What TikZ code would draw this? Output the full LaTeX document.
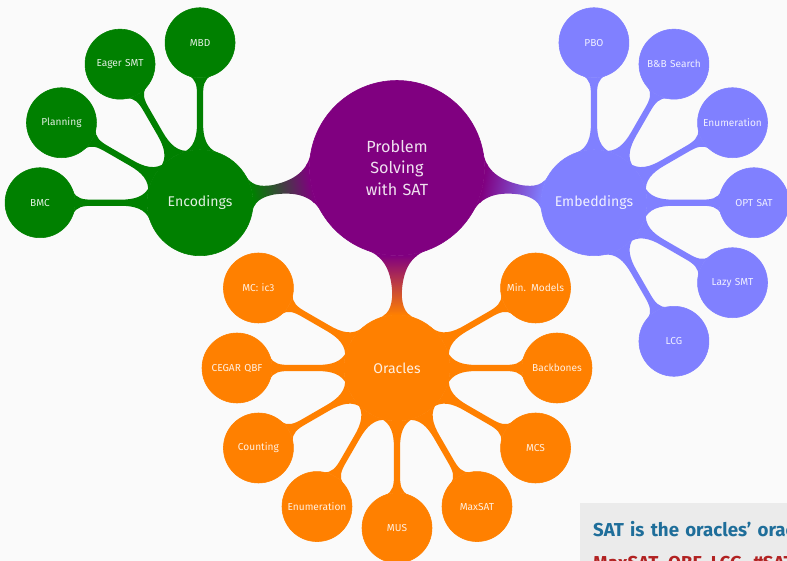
\documentclass[tikz,border=0pt]{standalone}
\usepackage{fontspec}
\setmainfont{Fira Sans}
\usetikzlibrary{mindmap,calc}

\definecolor{slidebg}{HTML}{FAFAFA}
\definecolor{rootcol}{HTML}{800080}
\definecolor{enccol}{HTML}{008000}
\definecolor{embcol}{HTML}{8080FF}
\definecolor{oraclecol}{HTML}{FF8000}
\definecolor{boxgray}{HTML}{EBEBEB}
\definecolor{alertblue}{HTML}{1F6E9A}
\definecolor{alertred}{HTML}{B22222}

\pgfdeclarelayer{canvas}
\pgfdeclarelayer{links}
\pgfsetlayers{canvas,links,main}

\begin{document}
\begin{tikzpicture}[mindmap,
    rootnode/.style={concept, concept color=rootcol, minimum size=4.375cm, text width=3cm,
      align=center, inner sep=0pt, font=\fontsize{11.5}{15.3}\selectfont},
    hubnode/.style={concept, minimum size=2.65cm, text width=2.2cm,
      align=center, inner sep=0pt, font=\fontsize{10}{12}\selectfont},
    leafnode/.style={concept, minimum size=1.75cm, text width=1.6cm,
      align=center, inner sep=0pt, font=\fontsize{7.2}{8.6}\selectfont},
    every node/.append style={text=white, text opacity=0.88},
    linkbar/.style={line width=0.2cm}]
            \useasboundingbox (0,0) rectangle (19.675,14.025);
            \begin{pgfonlayer}{canvas}
                \fill[slidebg] (0,0) rectangle (19.675,14.025);
            \end{pgfonlayer}

            % Root and main branches
            \node[rootnode] (sat) at (9.925,9.825) {Problem\\Solving\\with SAT};
            \node[hubnode, concept color=enccol] (enc) at ($(sat)+(190:5)$) {Encodings};
            \node[hubnode, concept color=embcol] (emb) at ($(sat)+(-10:5)$) {Embeddings};
            \node[hubnode, concept color=oraclecol] (orc) at ($(sat)+(270:5)$) {Oracles};
            \begin{pgfonlayer}{links}
                \path[linkbar] (sat) to[circle connection bar switch color=from (rootcol) to (enccol)] (enc);
                \path[linkbar] (sat) to[circle connection bar switch color=from (rootcol) to (embcol)] (emb);
                \path[linkbar] (sat) to[circle connection bar switch color=from (rootcol) to (oraclecol)] (orc);
            \end{pgfonlayer}

            % Encodings
            \foreach \ang/\nm/\txt in {180/bmc/BMC, 150/plan/Planning, 120/eager/Eager SMT, 90/mbd/MBD}
            {
                \node[leafnode, concept color=enccol] (\nm) at ($(enc)+(\ang:4)$) {\txt};
                \begin{pgfonlayer}{links}
                    \path[linkbar, concept color=enccol] (enc) to[circle connection bar] (\nm);
                \end{pgfonlayer}
            }

            % Embeddings
            \foreach \ang/\nm/\txt in {90/pbo/PBO, 60/bnb/B\&B Search, 30/enumb/Enumeration,
                0/optsat/OPT SAT, -30/lazy/Lazy SMT, -60/lcg/LCG}
            {
                \node[leafnode, concept color=embcol] (\nm) at ($(emb)+(\ang:4)$) {\txt};
                \begin{pgfonlayer}{links}
                    \path[linkbar, concept color=embcol] (emb) to[circle connection bar] (\nm);
                \end{pgfonlayer}
            }

            % Oracles
            \foreach \ang/\nm/\txt in {150/ictre/MC: ic3, 180/cegar/CEGAR QBF, 210/count/Counting,
                240/enumo/Enumeration, 270/mus/MUS, 300/maxsat/MaxSAT, 330/mcs/MCS,
                0/backb/Backbones, 30/minmod/Min. Models}
            {
                \node[leafnode, concept color=oraclecol] (\nm) at ($(orc)+(\ang:4)$) {\txt};
                \begin{pgfonlayer}{links}
                    \path[linkbar, concept color=oraclecol] (orc) to[circle connection bar] (\nm);
                \end{pgfonlayer}
            }

            % Takeaway box
            \begin{scope}[every node/.style={anchor=base west, inner sep=0pt,
                font=\fontsize{13.3}{16}\selectfont\bfseries}]
                \clip (0,0) rectangle (19.675,14.025);
                \fill[boxgray] (14.5,1.45) rectangle (19.675,0);
                \node[text=alertblue] (gist) at (14.58,0.6) {\mbox{SAT is the oracles' oracle}};
                \node[text=alertred] (list) at (14.58,-0.22) {\mbox{MaxSAT, QBF, LCG, \#SAT}};
            \end{scope}
\end{tikzpicture}
\end{document}
